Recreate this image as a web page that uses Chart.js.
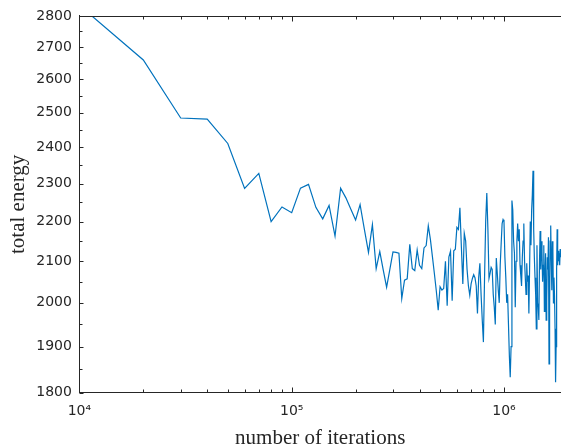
<!DOCTYPE html>
<html><head><meta charset="utf-8">
<script src="https://cdn.jsdelivr.net/npm/chart.js@4"></script>
<style>html,body{margin:0;padding:0;background:#fff;}canvas{display:block;}</style>
</head><body>
<canvas id="c" width="561" height="447"></canvas>
<script>
// ---- data ----
const iterations = [
10000,20000,30000,40000,50000,60000,70000,80000,90000,100000,
110000,120000,130000,140000,150000,160000,170000,180000,190000,200000,
210000,220000,230000,240000,250000,260000,270000,280000,290000,300000,
310000,320000,330000,340000,350000,360000,370000,380000,390000,400000,
410000,420000,430000,440000,450000,460000,470000,480000,490000,500000,
510000,520000,530000,540000,550000,560000,570000,580000,590000,600000,
610000,620000,630000,640000,650000,660000,670000,680000,690000,700000,
710000,720000,730000,740000,750000,760000,770000,780000,790000,800000,
810000,820000,830000,840000,850000,860000,870000,880000,890000,900000,
910000,920000,930000,940000,950000,960000,970000,980000,990000,1000000,
1010000,1020000,1030000,1040000,1050000,1060000,1070000,1080000,1090000,1100000,
1110000,1120000,1130000,1140000,1150000,1160000,1170000,1180000,1190000,1200000,
1210000,1220000,1230000,1240000,1250000,1260000,1270000,1280000,1290000,1300000,
1310000,1320000,1330000,1340000,1350000,1360000,1370000,1380000,1390000,1400000,
1410000,1420000,1430000,1440000,1450000,1460000,1470000,1480000,1490000,1500000,
1510000,1520000,1530000,1540000,1550000,1560000,1570000,1580000,1590000,1600000,
1610000,1620000,1630000,1640000,1650000,1660000,1670000,1680000,1690000,1700000,
1710000,1720000,1730000,1740000,1750000,1760000,1770000,1780000,1790000,1800000,
1810000,1820000,1830000,1840000,1850000
];
const totalEnergy = [
2835,2659,2484,2481,2411,2287,2328,2200,2238,2223,
2288,2298,2237,2207,2242,2163,2288,2262,2232,2204,
2244,2180,2122,2192,2082,2124,2078,2037,2080,2123,
2122,2120,2010,2054,2057,2142,2082,2077,2128,2090,
2082,2133,2139,2189,2155,2112,2070,2028,1983,2038,
2030,2034,2100,1993,2110,2125,2005,2126,2130,2185,
2180,2236,2135,2045,2170,2150,2080,2040,2018,2045,
2058,2067,2060,2040,1975,2060,2095,2020,1960,1910,
2060,2200,2275,2180,2058,2070,2085,2080,2020,1990,
1950,2108,2070,2030,2000,2090,2145,2195,2205,2200,
2110,2060,2000,2020,1950,1880,1833,1900,2255,2230,
2150,2120,1990,2100,2150,2195,2150,2180,2090,2065,
2040,2110,2150,2195,2100,2060,2020,2095,2050,2065,
1975,2080,2200,2140,2230,2270,2335,2180,2110,2060,
2020,1940,2140,2000,1990,1960,2100,2176,2080,2150,
2125,2050,2090,2140,1980,2060,2120,1960,2010,2110,
2080,2160,1862,1990,2150,2190,2100,2030,2150,2126,
2000,2060,2016,1940,1822,1900,2080,2180,2090,2126,
2100,2120,2090,2130,2110
];
const yTicks = [1800,1900,2000,2100,2200,2300,2400,2500,2600,2700,2800];
const yMinorTicks = [1850,1950,2050,2150,2250,2350,2450,2550,2650,2750];
const xTicks = [10000,100000,1000000];
const xTickLabels = ['10\u2074','10\u2075','10\u2076'];
const xMinorTicks = [20000,30000,40000,50000,60000,70000,80000,90000,
  200000,300000,400000,500000,600000,700000,800000,900000];
const xLabel = 'number of iterations';
const yLabel = 'total energy';

const axisColor = '#262626';
const lineColor = '#0072BD';

const boxTicks = {
  id: 'boxTicks',
  afterDatasetsDraw(chart) {
    const {ctx, chartArea: a, scales: {x, y}} = chart;
    ctx.save();
    ctx.strokeStyle = axisColor;
    ctx.lineWidth = 1;
    ctx.beginPath();
    const top = Math.round(a.top) + 0.5;
    const bot = Math.round(a.bottom) - 0.5;
    const lft = Math.round(a.left) + 0.5;
    ctx.moveTo(a.left, top); ctx.lineTo(a.right, top);
    const yt = (v, len) => { const p = Math.round(y.getPixelForValue(v)) + 0.5; ctx.moveTo(lft, p); ctx.lineTo(lft + len, p); };
    yTicks.forEach(v => yt(v, 4));
    yMinorTicks.forEach(v => yt(v, 3));
    const xt = (v, len) => { const p = Math.round(x.getPixelForValue(v)) + 0.5;
      ctx.moveTo(p, bot); ctx.lineTo(p, bot - len);
      ctx.moveTo(p, top); ctx.lineTo(p, top + len); };
    xTicks.forEach(v => xt(v, 5));
    xMinorTicks.forEach(v => xt(v, 3));
    ctx.stroke();
    ctx.restore();
  }
};

new Chart(document.getElementById('c'), {
  type: 'line',
  data: {
    datasets: [{
      data: iterations.map((it, i) => ({x: it, y: totalEnergy[i]})),
      borderColor: lineColor,
      borderWidth: 1.2,
      pointRadius: 0,
      tension: 0,
      fill: false,
      clip: 0
    }]
  },
  plugins: [boxTicks],
  options: {
    responsive: false,
    animation: false,
    devicePixelRatio: 1,
    layout: {padding: {top: 14, right: 0, left: 0, bottom: 0}},
    plugins: {legend: {display: false}, tooltip: {enabled: false}},
    scales: {
      x: {
        type: 'logarithmic',
        min: 10000,
        max: 1856000,
        grid: {display: false, drawTicks: false},
        border: {display: true, color: axisColor, width: 1},
        afterBuildTicks: s => { s.ticks = xTicks.map(v => ({value: v})); },
        afterFit: s => { s.height = 54.3; },
        ticks: {
          autoSkip: false, maxRotation: 0, padding: 10,
          color: axisColor,
          font: {family: 'DejaVu Sans', size: 14},
          callback: v => xTickLabels[xTicks.indexOf(v)]
        },
        title: {
          display: true, text: xLabel, color: axisColor,
          font: {family: 'Liberation Serif', size: 21, lineHeight: 0.857},
          padding: {top: 0, bottom: 0}
        }
      },
      y: {
        type: 'logarithmic',
        min: 1800,
        max: 2800,
        grid: {display: false, drawTicks: false},
        border: {display: true, color: axisColor, width: 1},
        afterBuildTicks: s => { s.ticks = yTicks.map(v => ({value: v})); },
        afterFit: s => { s.width = 79.4; },
        ticks: {
          autoSkip: false, padding: 7.5,
          color: axisColor,
          font: {family: 'DejaVu Sans', size: 14},
          callback: v => String(v)
        },
        title: {
          display: true, text: yLabel, color: axisColor,
          font: {family: 'Liberation Serif', size: 21, lineHeight: 0.857},
          padding: {top: 9, bottom: 0}
        }
      }
    }
  }
});
</script>
</body></html>
